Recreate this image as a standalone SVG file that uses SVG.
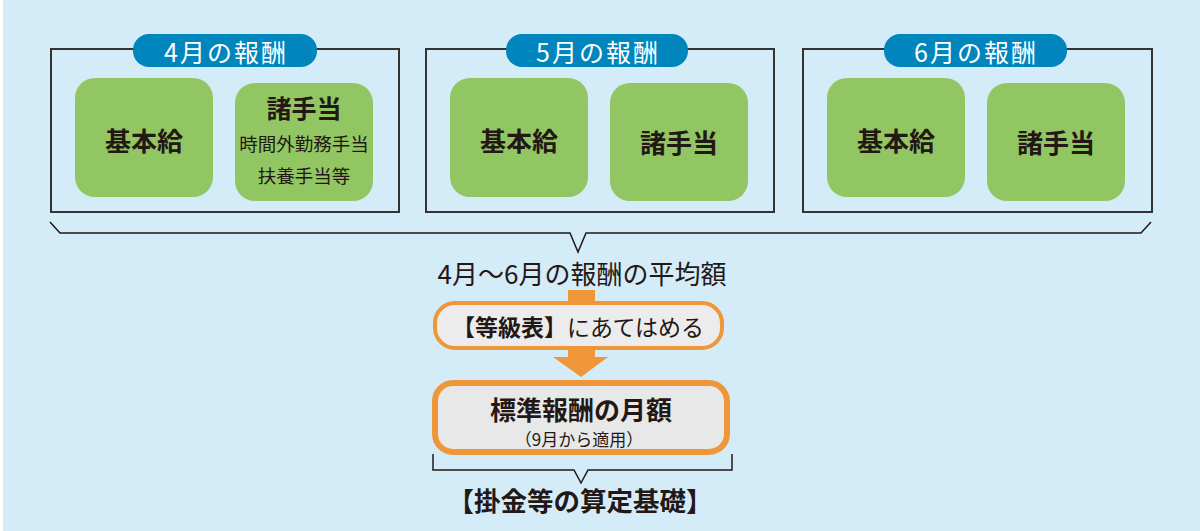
<svg xmlns="http://www.w3.org/2000/svg" width="1200" height="531" viewBox="0 0 1200 531">
<style>
.t{font-family:"Noto Sans CJK JP","Noto Sans",sans-serif;fill:#231815;text-anchor:middle;dominant-baseline:central}
.b{font-weight:bold}
.panel{fill:none;stroke:#333;stroke-width:2}
.pill{fill:#0086bd}
.pt{font-family:"Noto Sans CJK JP","Noto Sans",sans-serif;fill:#fff;font-size:25px;text-anchor:middle;dominant-baseline:central;letter-spacing:2px}
.g{fill:#92c662}
.ln{fill:none;stroke:#231815;stroke-width:1.5}
.or{fill:#f0963a}
</style>
<rect x="3" y="0" width="1197" height="531" fill="#d4ebf8"/>
<g id="panel-apr">
<rect class="panel" x="51" y="49" width="348" height="163"/>
<rect class="pill" x="133" y="34" width="184" height="33" rx="16"/>
<text class="pt" x="226" y="51">4月の報酬</text>
<rect class="g" x="75" y="78" width="138" height="119" rx="20"/>
<text class="t b" x="144" y="139" font-size="26">基本給</text>
<rect class="g" x="235" y="83" width="138" height="118" rx="20"/>
<text class="t b" x="304" y="107" font-size="25">諸手当</text>
<text class="t" x="304" y="143" font-size="18.5">時間外勤務手当</text>
<text class="t" x="304" y="175" font-size="18.5">扶養手当等</text>
</g>
<g id="panel-may">
<rect class="panel" x="426" y="49" width="348" height="163"/>
<rect class="pill" x="506" y="34" width="182" height="33" rx="16"/>
<text class="pt" x="598" y="51">5月の報酬</text>
<rect class="g" x="450" y="78" width="138" height="119" rx="20"/>
<text class="t b" x="519" y="139" font-size="26">基本給</text>
<rect class="g" x="610" y="83" width="138" height="118" rx="20"/>
<text class="t b" x="679" y="141" font-size="26">諸手当</text>
</g>
<g id="panel-jun">
<rect class="panel" x="803" y="49" width="349" height="163"/>
<rect class="pill" x="884" y="34" width="183" height="33" rx="16"/>
<text class="pt" x="976" y="51">6月の報酬</text>
<rect class="g" x="827" y="78" width="138" height="119" rx="20"/>
<text class="t b" x="896" y="139" font-size="26">基本給</text>
<rect class="g" x="987" y="83" width="138" height="118" rx="20"/>
<text class="t b" x="1056" y="141" font-size="26">諸手当</text>
</g>
<g id="connectors">
<path class="ln" d="M50,222 L60,233 L570,233 L578,252 L586,233 L1141,233 L1151,222"/>
<rect class="or" x="568" y="290" width="27" height="16"/>
<path class="or" d="M568,348 L595,348 L595,357 L608,357 L581,377 L553,357 L568,357 Z"/>
<path class="ln" d="M433,454 L433,470 L574,470 L581,483 L588,470 L732,470 L732,454"/>
</g>
<g id="average">
<text class="t" x="582" y="272" font-size="26">4月～6月の報酬の平均額</text>
</g>
<g id="grade-table">
<rect x="435" y="303" width="287" height="45" rx="20" fill="#ececec" stroke="#f0963a" stroke-width="4"/>
<text class="t" x="578" y="326" font-size="23"><tspan font-weight="bold">【等級表】</tspan>にあてはめる</text>
</g>
<g id="standard">
<rect x="435" y="383" width="292" height="69" rx="18" fill="#e8e8e8" stroke="#f0963a" stroke-width="6"/>
<text class="t b" x="581" y="408" font-size="26">標準報酬の月額</text>
<text class="t" x="579" y="438" font-size="17">（9月から適用）</text>
</g>
<g id="basis">
<text class="t b" x="580" y="499" font-size="26.5">【掛金等の算定基礎】</text>
</g>
</svg>
